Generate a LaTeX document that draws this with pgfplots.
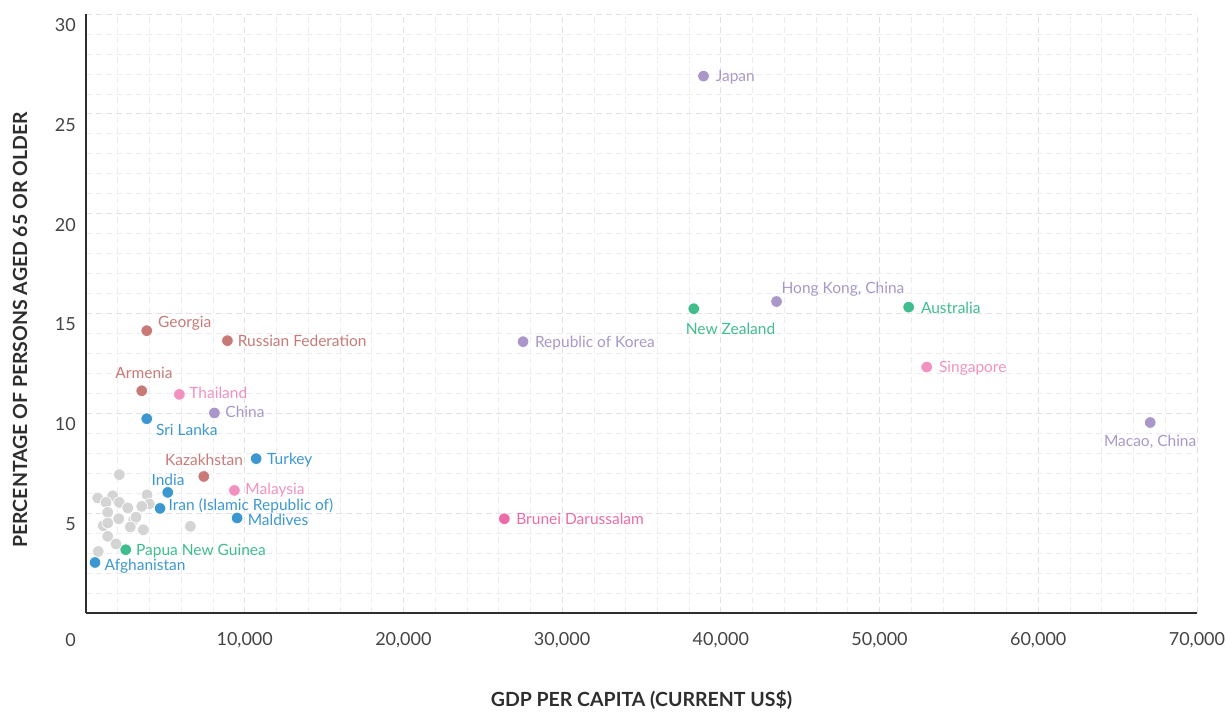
\documentclass[border=0pt]{standalone}
\usepackage{fontspec}
\setmainfont{Lato}
\usepackage{pgfplots}
\pgfplotsset{compat=1.18}

\definecolor{redc}{HTML}{C87A77}
\definecolor{pinkc}{HTML}{F291BF}
\definecolor{bruneic}{HTML}{EC6CA7}
\definecolor{purplec}{HTML}{A997C9}
\definecolor{bluec}{HTML}{3C97D1}
\definecolor{greenc}{HTML}{3FBD8C}
\definecolor{grayc}{HTML}{D4D4D4}
\definecolor{gridmaj}{HTML}{E4DFE9}
\definecolor{gridmin}{HTML}{EEEBF1}
\definecolor{axc}{HTML}{2E2E2E}
\definecolor{tickc}{HTML}{444444}

\newcommand\labfont{\fontsize{15.5}{18}\selectfont}
\newcommand\tickfont{\fontsize{18}{21}\selectfont}

\pgfplotsset{
  dot/.style={only marks, mark=*, mark size=5.8pt,
    mark options={draw=white, line width=0.7pt, fill=#1}},
  lbl/.style n args={5}{dot=#1, nodes near coords={#2},
    every node near coord/.style={anchor=#3, xshift=#4pt, yshift=#5pt,
      font=\labfont, text=#1, inner sep=0pt}},
}

\begin{document}
\begin{tikzpicture}
\begin{axis}[
  scale only axis,
  width=1111pt, height=599pt,
  xmin=0, xmax=70000, ymin=0, ymax=30,
  axis lines*=left,
  axis line style={draw=axc, line width=1.6pt},
  scaled x ticks=false, scaled y ticks=false,
  xtick={0,10000,20000,30000,40000,50000,60000,70000},
  xticklabels={{},{10,000},{20,000},{30,000},{40,000},{50,000},{60,000},{70,000}},
  ytick={0,5,10,15,20,25,30},
  yticklabels={{},5,10,15,20,25,30},
  minor x tick num=4, minor y tick num=4,
  grid=both,
  major grid style={draw=gridmaj, dash pattern=on 6pt off 4pt, line width=0.8pt},
  minor grid style={draw=gridmin, dash pattern=on 6pt off 4pt, line width=0.7pt},
  major tick length=0pt, minor tick length=0pt,
  xticklabel style={anchor=center, yshift=-27pt, font=\tickfont, text=tickc, inner sep=0pt},
  yticklabel style={anchor=east, xshift=-10pt, yshift=-11pt, font=\tickfont, text=tickc, inner sep=0pt},
  every axis x label/.style={at={(axis description cs:0.5,-0.1452)}, anchor=center},
  every axis y label/.style={at={(axis description cs:-0.0594,0.4725)}, rotate=90, anchor=center},
  xlabel={GDP PER CAPITA (CURRENT US\$)},
  ylabel={PERCENTAGE OF PERSONS AGED 65 OR OLDER},
  label style={font=\fontsize{19.5}{22}\selectfont\bfseries, text=axc},
  clip=false,
]
% other economies (grey)
\addplot[dot=grayc] coordinates {
  (2100,6.93) (738,5.76) (1684,5.87) (1261,5.54) (2100,5.54) (3847,5.92)
  (3992,5.46) (3512,5.34) (2630,5.26) (1368,5.04) (2062,4.72) (3008,4.67)
  (3150,4.80) (2794,4.31) (1091,4.37) (1368,4.51) (3613,4.17) (6577,4.34)
  (1368,3.84) (1892,3.46) (772,3.08)
};
% red group
\addplot[lbl={redc}{Georgia}{base west}{11}{2.7}] coordinates {(3828,14.14)};
\addplot[lbl={redc}{Russian Federation}{base west}{10}{-6.3}] coordinates {(8911,13.64)};
\addplot[lbl={redc}{Armenia}{base}{2.3}{12.7}] coordinates {(3512,11.13)};
\addplot[lbl={redc}{Kazakhstan}{base}{0.3}{10.7}] coordinates {(7422,6.84)};
% pink group
\addplot[lbl={pinkc}{Thailand}{base west}{9.7}{-4.3}] coordinates {(5884,10.95)};
\addplot[lbl={pinkc}{Malaysia}{base west}{10.7}{-4.5}] coordinates {(9352,6.14)};
\addplot[lbl={pinkc}{Singapore}{base west}{12}{-5.5}] coordinates {(52970,12.32)};
\addplot[lbl={bruneic}{Brunei Darussalam}{base west}{11.7}{-6}] coordinates {(26359,4.72)};
% purple group
\addplot[lbl={purplec}{Japan}{base west}{12}{-5.5}] coordinates {(38908,26.89)};
\addplot[lbl={purplec}{Republic of Korea}{base west}{11.6}{-5.7}] coordinates {(27538,13.59)};
\addplot[lbl={purplec}{China}{base west}{10.7}{-5}] coordinates {(8091,10.02)};
\addplot[lbl={purplec}{{Hong Kong, China}}{base west}{4.7}{8.4}] coordinates {(43511,15.60)};
\addplot[lbl={purplec}{{Macao, China}}{base}{0}{-24}] coordinates {(67052,9.54)};
% blue group
\addplot[lbl={bluec}{Sri Lanka}{base west}{9}{-16.3}] coordinates {(3828,9.73)};
\addplot[lbl={bluec}{Turkey}{base west}{10.7}{-6}] coordinates {(10720,7.73)};
\addplot[lbl={bluec}{India}{base}{0.3}{7.4}] coordinates {(5152,6.04)};
\addplot[lbl={bluec}{Iran (Islamic Republic of)}{base west}{8.3}{-2}] coordinates {(4666,5.24)};
\addplot[lbl={bluec}{Maldives}{base west}{10.3}{-7.5}] coordinates {(9522,4.76)};
\addplot[lbl={bluec}{Afghanistan}{base west}{9.3}{-8}] coordinates {(568,2.53)};
% green group
\addplot[lbl={greenc}{Papua New Guinea}{base west}{10}{-6}] coordinates {(2503,3.17)};
\addplot[lbl={greenc}{New Zealand}{base west}{-8.3}{-25.3}] coordinates {(38296,15.24)};
\addplot[lbl={greenc}{Australia}{base west}{12}{-6}] coordinates {(51835,15.32)};
\end{axis}
\node[anchor=east, inner sep=0pt, font=\tickfont, text=tickc] at (-10pt,-27pt) {0};
\path (-86pt,-98pt) rectangle (1140pt,613pt);
\end{tikzpicture}
\end{document}
